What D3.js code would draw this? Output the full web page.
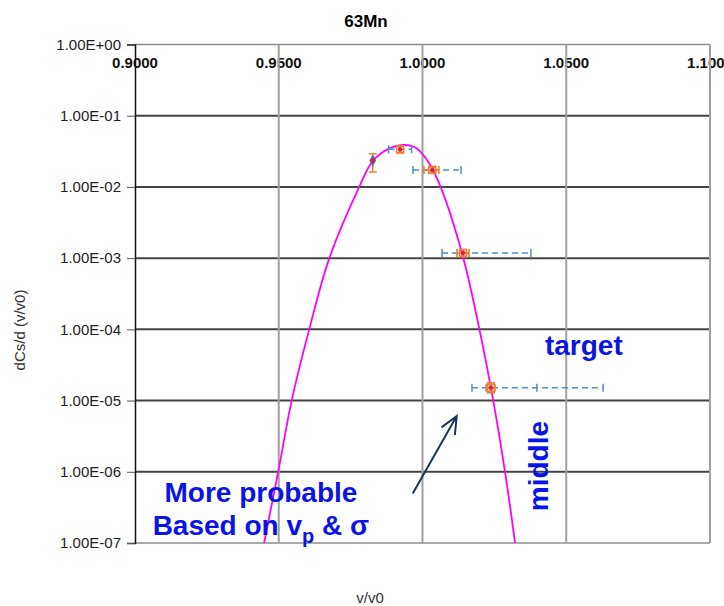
<!DOCTYPE html>
<html>
<head>
<meta charset="utf-8">
<script src="https://cdn.jsdelivr.net/npm/d3@7"></script>
<style>
  body { margin: 0; background: #fff; }
  text { font-family: Arial, "Liberation Sans", sans-serif; }
</style>
</head>
<body>
<div class="chart_area"></div>
<script>
// measured points
var vx      = [0.9827, 0.9922, 1.0034, 1.0141, 1.0238];
var dcs     = [0.0235, 0.0337, 0.0173, 1.18e-3, 1.51e-5];
var dcsLo   = [0.0162, 0.0303, 0.0157, 1.06e-3, 1.29e-5];
var dcsHi   = [0.0292, 0.0375, 0.0190, 1.32e-3, 1.78e-5];
var vxLoOr  = [null, null, 1.0005, 1.0120, 1.0221];
var vxHiOr  = [null, null, 1.0057, 1.0162, 1.0252];
var vxLoBl  = [null, 0.9882, 0.9967, 1.0068, 1.0172];
var vxHiBl  = [null, 0.9962, 1.0134, 1.0377, 1.0628];
var vxMidBl = [null, null, null, null, 1.0398];

// fitted curve
var curveX = [0.9449, 0.9498, 0.9545, 0.9606, 0.9676, 0.9780, 0.9827, 0.9885, 0.9932,
              0.9974, 1.0020, 1.0063, 1.0142, 1.0198, 1.0246, 1.0287, 1.0322];
var curveY = [1e-7, 1e-6, 1e-5, 1e-4, 1e-3, 1e-2, 0.0231, 0.0348, 0.0388,
              0.0360, 0.0226, 1e-2, 1e-3, 1e-4, 1e-5, 1e-6, 1e-7];

var xTicks = [0.90, 0.95, 1.00, 1.05, 1.10];
var yTicks = [1, 1e-1, 1e-2, 1e-3, 1e-4, 1e-5, 1e-6, 1e-7];

var width = 724, height = 606;
var margin = { top: 44.5, right: 14, bottom: 63, left: 135 };

var svg = d3.select(".chart_area")
    .append("svg")
    .attr("width", width)
    .attr("height", height);

var x = d3.scaleLinear()
    .domain([0.9, 1.1])
    .range([margin.left, width - margin.right]);

var y = d3.scaleLog()
    .domain([1, 1e-7])
    .range([margin.top, height - margin.bottom]);

// title
svg.append("text")
    .attr("x", 366)
    .attr("y", 27)
    .attr("text-anchor", "middle")
    .style("font-weight", "bold")
    .style("font-size", "17px")
    .text("63Mn");

// top axis labels (drawn under the grid)
svg.selectAll(".xlab")
    .data(xTicks)
    .enter()
    .append("text")
    .attr("class", "xlab")
    .attr("x", function(d){ return x(d); })
    .attr("y", y(1) + 23)
    .attr("text-anchor", "middle")
    .style("font-weight", "bold")
    .style("font-size", "15px")
    .style("fill", "#111")
    .text(function(d){ return d.toFixed(4); });

// horizontal grid
svg.selectAll(".hgrid")
    .data(yTicks)
    .enter()
    .append("line")
    .attr("x1", x(0.9))
    .attr("x2", x(1.1))
    .attr("y1", function(d){ return y(d); })
    .attr("y2", function(d){ return y(d); })
    .style("stroke", function(d){ return (d == 1 || d == 1e-7) ? "#8c8c8c" : "#444"; })
    .style("stroke-width", function(d){ return (d == 1 || d == 1e-7) ? 1.5 : 2; });

// vertical grid
svg.selectAll(".vgrid")
    .data(xTicks.slice(1))
    .enter()
    .append("line")
    .attr("x1", function(d){ return x(d); })
    .attr("x2", function(d){ return x(d); })
    .attr("y1", y(1))
    .attr("y2", y(1e-7))
    .style("stroke", "#a0a0a0")
    .style("stroke-width", 2);

// left axis
var yAxis = svg.append("g")
    .attr("transform", "translate(" + margin.left + ",0)")
    .call(d3.axisLeft(y).tickValues(yTicks).tickSize(8).tickPadding(6)
        .tickFormat(function(d){
            var e = Math.round(Math.log10(d));
            return "1.00E" + (e < 0 ? "-" : "+") + d3.format("02d")(Math.abs(e));
        }));

yAxis.select(".domain")
    .style("stroke", "#111")
    .style("stroke-width", 1.5);

yAxis.selectAll("line")
    .style("stroke", "#555");

yAxis.selectAll("text")
    .style("font-size", "15px")
    .style("font-family", "Arial, 'Liberation Sans', sans-serif")
    .style("fill", "#222");

// axis titles
svg.append("text")
    .attr("transform", "translate(25," + 330 + ")rotate(-90)")
    .attr("text-anchor", "middle")
    .style("font-size", "15px")
    .style("fill", "#333")
    .text("dCs/d (v/v0)");

svg.append("text")
    .attr("x", 370)
    .attr("y", 603)
    .attr("text-anchor", "middle")
    .style("font-size", "15px")
    .style("fill", "#333")
    .text("v/v0");

// curve
var curvePts = curveX.map(function(d, i){ return [d, curveY[i]]; });

svg.append("path")
    .datum(curvePts)
    .attr("fill", "none")
    .attr("stroke", "#ff00ff")
    .attr("stroke-width", 1.8)
    .attr("d", d3.line()
        .x(function(d){ return x(d[0]); })
        .y(function(d){ return y(d[1]); })
        .curve(d3.curveCatmullRom.alpha(0.5)));

var pts = vx.map(function(d, i){ return i; });

// blue dashed horizontal error bars
var blue = "#4a8fcf", orange = "#ed7d31";
var blueBars = pts.filter(function(i){ return vxLoBl[i] != null; });

svg.selectAll(".bbar")
    .data(blueBars)
    .enter()
    .append("line")
    .attr("x1", function(i){ return x(vxLoBl[i]); })
    .attr("x2", function(i){ return x(vxHiBl[i]); })
    .attr("y1", function(i){ return y(dcs[i]); })
    .attr("y2", function(i){ return y(dcs[i]); })
    .style("stroke", blue)
    .style("stroke-width", 1.5)
    .style("stroke-dasharray", "6,4");

var blueCaps = [];
blueBars.forEach(function(i){
    blueCaps.push([vxLoBl[i], dcs[i]], [vxHiBl[i], dcs[i]]);
    if (vxMidBl[i] != null) blueCaps.push([vxMidBl[i], dcs[i]]);
});

svg.selectAll(".bcap")
    .data(blueCaps)
    .enter()
    .append("line")
    .attr("x1", function(d){ return x(d[0]); })
    .attr("x2", function(d){ return x(d[0]); })
    .attr("y1", function(d){ return y(d[1]) - 4; })
    .attr("y2", function(d){ return y(d[1]) + 4; })
    .style("stroke", blue)
    .style("stroke-width", 1.5);

// orange error bars
svg.selectAll(".ovbar")
    .data(pts)
    .enter()
    .append("path")
    .attr("fill", "none")
    .attr("stroke", orange)
    .attr("stroke-width", 1.6)
    .attr("d", function(i){
        var cx = x(vx[i]), lo = y(dcsLo[i]), hi = y(dcsHi[i]);
        return "M" + (cx - 4) + "," + hi + "H" + (cx + 4) +
               "M" + cx + "," + hi + "V" + lo +
               "M" + (cx - 4) + "," + lo + "H" + (cx + 4);
    });

svg.selectAll(".ohbar")
    .data(pts.filter(function(i){ return vxLoOr[i] != null; }))
    .enter()
    .append("path")
    .attr("fill", "none")
    .attr("stroke", orange)
    .attr("stroke-width", 1.6)
    .attr("d", function(i){
        var cy = y(dcs[i]), l = x(vxLoOr[i]), r = x(vxHiOr[i]);
        return "M" + l + "," + (cy - 4) + "V" + (cy + 4) +
               "M" + l + "," + cy + "H" + r +
               "M" + r + "," + (cy - 4) + "V" + (cy + 4);
    });

// markers
svg.selectAll(".sq")
    .data(pts.filter(function(i){ return i > 0; }))
    .enter()
    .append("rect")
    .attr("x", function(i){ return x(vx[i]) - 3.5; })
    .attr("y", function(i){ return y(dcs[i]) - 3.5; })
    .attr("width", 7)
    .attr("height", 7)
    .attr("fill", "none")
    .attr("stroke", orange)
    .attr("stroke-width", 1.5);

svg.selectAll(".dia")
    .data([0])
    .enter()
    .append("path")
    .attr("transform", function(i){ return "translate(" + x(vx[i]) + "," + y(dcs[i]) + ")"; })
    .attr("d", d3.symbol().type(d3.symbolDiamond).size(40))
    .attr("fill", "#3f6fb5");

svg.selectAll(".dot")
    .data(pts)
    .enter()
    .append("circle")
    .attr("cx", function(i){ return x(vx[i]); })
    .attr("cy", function(i){ return y(dcs[i]); })
    .attr("r", 2.3)
    .attr("fill", "#e0203a");

// annotations
var annBlue = "#0a14e6";

svg.append("text")
    .attr("x", x(1.0426))
    .attr("y", y(4.36e-5))
    .style("font-weight", "bold")
    .style("font-size", "28px")
    .style("fill", annBlue)
    .text("target");

svg.append("text")
    .attr("transform", "translate(" + x(1.0437) + "," + y(1.2e-6) + ")rotate(-90)")
    .attr("text-anchor", "middle")
    .style("font-weight", "bold")
    .style("font-size", "28px")
    .style("fill", annBlue)
    .text("middle");

svg.append("text")
    .attr("x", x(0.9438))
    .attr("y", y(3.79e-7))
    .attr("text-anchor", "middle")
    .style("font-weight", "bold")
    .style("font-size", "28px")
    .style("fill", annBlue)
    .text("More probable");

var based = svg.append("text")
    .attr("x", x(0.9438))
    .attr("y", y(1.29e-7))
    .attr("text-anchor", "middle")
    .style("font-weight", "bold")
    .style("font-size", "28px")
    .style("fill", annBlue);
based.append("tspan").text("Based on v");
based.append("tspan").attr("dy", 8).style("font-size", "20px").text("p");
based.append("tspan").attr("dy", -8).text(" & \u03c3");

// arrow
var arrowFrom = [0.9966, 4.97e-7], arrowTo = [1.0119, 6.05e-6];
var ax0 = x(arrowFrom[0]), ay0 = y(arrowFrom[1]), ax1 = x(arrowTo[0]), ay1 = y(arrowTo[1]);
var ang = Math.atan2(ay1 - ay0, ax1 - ax0), hl = 19, ha = 0.42;

svg.append("path")
    .attr("fill", "none")
    .attr("stroke", "#17375e")
    .attr("stroke-width", 2)
    .attr("d", "M" + ax0 + "," + ay0 + "L" + ax1 + "," + ay1 +
        "M" + (ax1 - hl * Math.cos(ang - ha)) + "," + (ay1 - hl * Math.sin(ang - ha)) +
        "L" + ax1 + "," + ay1 +
        "L" + (ax1 - hl * Math.cos(ang + ha)) + "," + (ay1 - hl * Math.sin(ang + ha)));
</script>
</body>
</html>
